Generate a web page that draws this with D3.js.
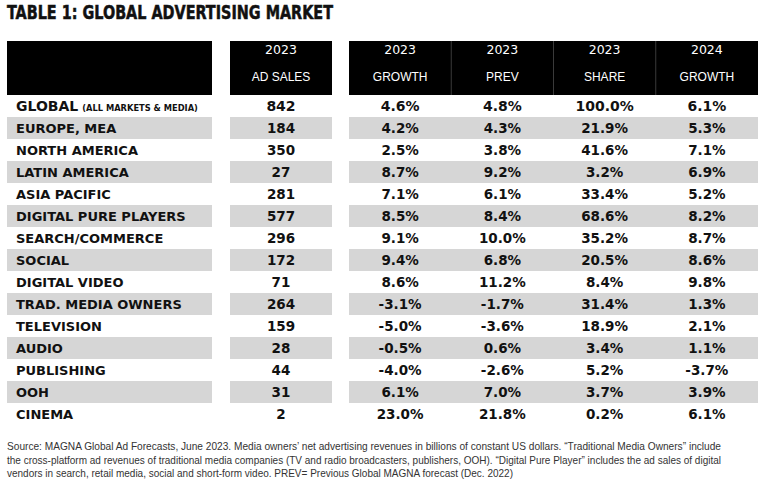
<!DOCTYPE html>
<html>
<head>
<meta charset="utf-8">
<script src="https://cdn.jsdelivr.net/npm/d3@7"></script>
<style>
  html, body { margin: 0; padding: 0; background: #fff; }
  svg { display: block; }
</style>
</head>
<body>
<svg id="chart" width="768" height="492"></svg>
<script>
const title = "TABLE 1: GLOBAL ADVERTISING MARKET";
const rowLabels = ["GLOBAL", "EUROPE, MEA", "NORTH AMERICA", "LATIN AMERICA", "ASIA PACIFIC",
  "DIGITAL PURE PLAYERS", "SEARCH/COMMERCE", "SOCIAL", "DIGITAL VIDEO", "TRAD. MEDIA OWNERS",
  "TELEVISION", "AUDIO", "PUBLISHING", "OOH", "CINEMA"];
const globalNote = "(ALL MARKETS & MEDIA)";
const headerYears = ["2023", "2023", "2023", "2023", "2024"];
const headerNames = ["AD SALES", "GROWTH", "PREV", "SHARE", "GROWTH"];
const adSales = [842, 184, 350, 27, 281, 577, 296, 172, 71, 264, 159, 28, 44, 31, 2];
const growth2023 = [4.6, 4.2, 2.5, 8.7, 7.1, 8.5, 9.1, 9.4, 8.6, -3.1, -5.0, -0.5, -4.0, 6.1, 23.0];
const prev2023 = [4.8, 4.3, 3.8, 9.2, 6.1, 8.4, 10.0, 6.8, 11.2, -1.7, -3.6, 0.6, -2.6, 7.0, 21.8];
const share2023 = [100.0, 21.9, 41.6, 3.2, 33.4, 68.6, 35.2, 20.5, 8.4, 31.4, 18.9, 3.4, 5.2, 3.7, 0.2];
const growth2024 = [6.1, 5.3, 7.1, 6.9, 5.2, 8.2, 8.7, 8.6, 9.8, 1.3, 2.1, 1.1, -3.7, 3.9, 6.1];
const footnote = [
  "Source: MAGNA Global Ad Forecasts, June 2023. Media owners’ net advertising revenues in billions of constant US dollars. “Traditional Media Owners” include",
  "the cross-platform ad revenues of traditional media companies (TV and radio broadcasters, publishers, OOH). “Digital Pure Player” includes the ad sales of digital",
  "vendors in search, retail media, social and short-form video. PREV= Previous Global MAGNA forecast (Dec. 2022)"
];

const svg = d3.select("#chart");
const bodyFont = "'DejaVu Sans', sans-serif";
const headFont = "'Liberation Sans', Arial, sans-serif";

// Title
svg.append("text")
  .attr("x", 7).attr("y", 18.5)
  .attr("font-family", "'DejaVu Sans Condensed', 'DejaVu Sans', sans-serif")
  .attr("font-stretch", "condensed")
  .attr("font-weight", "bold").attr("font-size", 19)
  .attr("textLength", 326).attr("lengthAdjust", "spacingAndGlyphs")
  .attr("fill", "#111").attr("stroke", "#111").attr("stroke-width", 0.5)
  .text(title);

// Scales
const y = d3.scaleBand().domain(d3.range(rowLabels.length)).range([95, 425]).padding(0);
const x4 = d3.scaleBand().domain(d3.range(4)).range([349, 758]).padding(0);
const blocks = [
  {x0: 7, x1: 212},
  {x0: 230, x1: 332},
  {x0: 349, x1: 758}
];
const headTop = 41, headBottom = 95;

// Header blocks
svg.selectAll("rect.head").data(blocks).join("rect")
  .attr("class", "head")
  .attr("x", d => d.x0).attr("y", headTop)
  .attr("width", d => d.x1 - d.x0).attr("height", headBottom - headTop)
  .attr("fill", "#000");

// Header dividers within the 4-column block
svg.selectAll("line.hdiv").data([1, 2, 3]).join("line")
  .attr("class", "hdiv")
  .attr("x1", d => x4(d)).attr("x2", d => x4(d))
  .attr("y1", headTop).attr("y2", headBottom)
  .attr("stroke", "#3a3a3a").attr("stroke-width", 1);

// Column centers
const colCenters = [(blocks[1].x0 + blocks[1].x1) / 2].concat(d3.range(4).map(i => x4(i) + x4.bandwidth() / 2));

// Header text
const hg = svg.append("g").attr("fill", "#fff").attr("text-anchor", "middle");
hg.selectAll("text.yr").data(headerYears).join("text").attr("class", "yr")
  .attr("font-family", bodyFont).attr("font-size", 12.5)
  .attr("x", (d, i) => colCenters[i]).attr("y", 54).text(d => d);
hg.selectAll("text.nm").data(headerNames).join("text").attr("class", "nm")
  .attr("font-family", headFont).attr("font-size", 12)
  .attr("x", (d, i) => colCenters[i]).attr("y", 81).text(d => d);

// Zebra stripes
const striped = d3.range(rowLabels.length).filter(i => i % 2 === 1);
striped.forEach(i => {
  svg.selectAll(null).data(blocks).join("rect")
    .attr("x", d => d.x0).attr("y", y(i))
    .attr("width", d => d.x1 - d.x0).attr("height", y.bandwidth())
    .attr("fill", "#d6d6d6");
});

// Row labels
const lg = svg.append("g").attr("font-family", bodyFont).attr("font-weight", "bold").attr("font-size", 13).attr("fill", "#111");
rowLabels.forEach((lab, i) => {
  const t = lg.append("text").attr("x", 16).attr("y", y(i) + y.bandwidth() / 2 + 5);
  t.append("tspan").attr("font-size", i === 0 ? 14 : 13).text(lab);
  if (i === 0) {
    t.append("tspan").attr("font-size", 8.3).attr("dx", 4).attr("dy", 0).text(globalNote);
  }
});

// Values
const fmtPct = v => v.toFixed(1) + "%";
const columns = [
  adSales.map(v => String(v)),
  growth2023.map(fmtPct),
  prev2023.map(fmtPct),
  share2023.map(fmtPct),
  growth2024.map(fmtPct)
];
const vg = svg.append("g").attr("font-family", bodyFont).attr("font-weight", "bold").attr("fill", "#111").attr("text-anchor", "middle");
columns.forEach((col, c) => {
  vg.selectAll(null).data(col).join("text")
    .attr("font-size", (d, i) => i === 0 ? 14 : 13.5)
    .attr("x", colCenters[c])
    .attr("y", (d, i) => y(i) + y.bandwidth() / 2 + 5)
    .text(d => d);
});

// Footnote
const fnWidths = [714, 714, 506];
svg.append("g").attr("font-family", headFont).attr("font-size", 10.5).attr("fill", "#333")
  .selectAll("text").data(footnote).join("text")
  .attr("x", 7).attr("y", (d, i) => 450 + i * 13.5)
  .attr("textLength", (d, i) => fnWidths[i]).attr("lengthAdjust", "spacingAndGlyphs")
  .text(d => d);
</script>
</body>
</html>
